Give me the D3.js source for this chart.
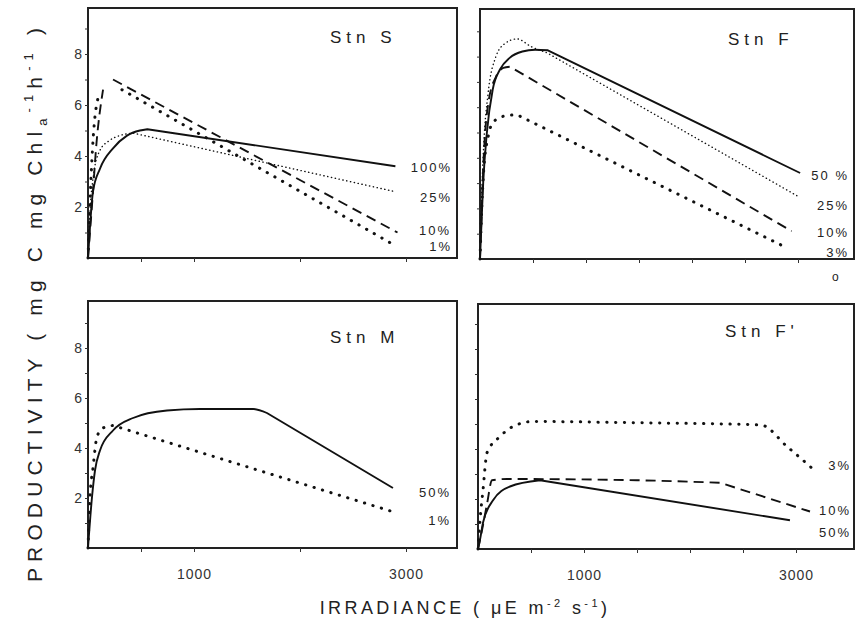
<!DOCTYPE html>
<html><head><meta charset="utf-8">
<script src="https://cdn.jsdelivr.net/npm/d3@7"></script>
<style>
body{margin:0;background:#fff;}
text{font-family:"Liberation Sans",Arial,sans-serif;fill:#222;}
</style></head>
<body><svg id="c" width="859" height="632"></svg>
<script>
// ---- data (irradiance µE m-2 s-1, productivity mg C mg Chla-1 h-1) ----
const stnS_100 = [[0,0],[20,1.3],[47,2.6],[113,3.5],[236,4.3],[368,4.8],[490,5.0],[560,5.05],[2900,3.6]];
const stnS_25  = [[0,0],[20,1.9],[50,3.2],[110,4.2],[200,4.6],[300,4.8],[425,4.9],[2900,2.6]];
const stnS_10  = [[0,0],[40,2.2],[80,4.5],[142,6.6],null,[236,7.0],[2920,1.0]];
const stnS_1   = [[0,0],[25,2.8],[60,5.3],[113,6.5],null,[320,6.6],[2850,0.6]];

const stnF_50 = [[0,0],[15,1.5],[30,3],[65,5],[120,6.7],[190,7.5],[280,7.95],[400,8.2],[520,8.27],[640,8.25],[3020,3.4]];
const stnF_25 = [[0,0],[12,2],[35,4.5],[75,6.5],[150,8],[230,8.5],[350,8.7],[480,8.4],[632,8.15],[2990,2.5]];
const stnF_10 = [[0,0],[15,1.8],[35,4],[80,6.2],[150,7.2],[220,7.55],[283,7.6],[2940,1.1]];
const stnF_3  = [[0,0],[12,1.5],[35,3.5],[80,4.9],[123,5.4],[230,5.65],[350,5.7],[2900,0.43]];

const stnM_50 = [[0,0],[38,2.05],[66,3.1],[113,3.9],[236,4.7],[425,5.2],[745,5.5],[1057,5.56],[1557,5.56],[1688,5.4],[2877,2.4]];
const stnM_1  = [[0,0],[19,2.05],[47,3.2],[85,4.45],[142,4.8],[236,4.9],[2915,1.4]];

const stnFp_3  = [[0,0],[20,1.2],[47,2.35],[85,3.85],[208,4.5],[330,4.9],[519,5.1],[1500,5.05],[2670,4.96],[2915,4.1],[3200,3.05]];
const stnFp_10 = [[0,0],[40,0.8],[85,1.8],[132,2.75],[274,2.8],[1500,2.75],[2283,2.65],[3132,1.5]];
const stnFp_50 = [[0,0],[20,0.4],[47,1.05],[142,1.95],[302,2.5],[585,2.75],[2943,1.15]];

const yTickValues = [1,2,3,4,5,6,7,8,9];
const yTickLabels = [2,4,6,8];
const xTicksLeft  = [500,1000,2000,3000];
const xTicksRight = [500,1000,1500,2000,2500,3000];
const xTickLabels = [1000,3000];

const panels = [
  {title:"Stn S",  x0:88, x1:457, y0:258, y1:8,  ppu:25.5, xTicks:xTicksLeft,  yLab:true,  xLab:false, tx:330, ty:43,
   series:[{d:stnS_100,s:"solid",lin:7,lab:"100%",lx:452,ly:172},{d:stnS_25,s:"thin",lin:6,lab:"25%",lx:452,ly:202},
           {d:stnS_10,s:"dash",lab:"10%",lx:451,ly:235},{d:stnS_1,s:"dot",lab:"1%",lx:452,ly:251}]},
  {title:"Stn F",  x0:480, x1:854, y0:259, y1:9, ppu:25.3, xTicks:xTicksRight, yLab:false, xLab:false, tx:728, ty:45,
   series:[{d:stnF_50,s:"solid",lin:9,lab:"50 %",lx:849,ly:180},{d:stnF_25,s:"thin",lin:8,lab:"25%",lx:849,ly:210},
           {d:stnF_10,s:"dash",lin:6,lab:"10%",lx:849,ly:237},{d:stnF_3,s:"dot",lin:6,lab:"3%",lx:849,ly:257}]},
  {title:"Stn M",  x0:88, x1:457, y0:548, y1:301, ppu:25, xTicks:xTicksLeft,  yLab:true,  xLab:true, tx:330, ty:343,
   series:[{d:stnM_50,s:"solid",lin:9,lab:"50%",lx:451,ly:497},{d:stnM_1,s:"dot",lin:5,lab:"1%",lx:451,ly:525}]},
  {title:"Stn F'", x0:478, x1:854, y0:549, y1:304, ppu:25, xTicks:xTicksRight, yLab:false, xLab:true, tx:725, ty:337,
   series:[{d:stnFp_3,s:"dot",lab:"3%",lx:851,ly:470},{d:stnFp_10,s:"dash",lin:6,lab:"10%",lx:851,ly:515},
           {d:stnFp_50,s:"solid",lin:5,lab:"50%",lx:851,ly:537}]}
];

const styles = {
  solid:{w:1.9,dash:null,cap:"butt"},
  thin:{w:1.4,dash:"0.3,3.6",cap:"round"},
  dash:{w:1.9,dash:"10,6",cap:"butt"},
  dot:{w:3,dash:"0.3,8.5",cap:"round"}
};

const svg = d3.select("#c");

panels.forEach(p=>{
  const x = d3.scaleLinear().domain([0,(p.x1-p.x0)/0.106]).range([p.x0,p.x1]);
  const y = d3.scaleLinear().domain([0,(p.y0-p.y1)/p.ppu]).range([p.y0,p.y1]);
  const g = svg.append("g");

  g.append("rect").attr("x",p.x0).attr("y",p.y1).attr("width",p.x1-p.x0).attr("height",p.y0-p.y1)
    .attr("fill","none").attr("stroke","#222").attr("stroke-width",2);

  const ya = g.append("g").attr("transform",`translate(${p.x0},0)`)
    .call(d3.axisLeft(y).tickValues(yTickValues).tickSize(3).tickPadding(3)
      .tickFormat(v=> p.yLab && yTickLabels.includes(v) ? v : ""));
  ya.select(".domain").remove();
  ya.selectAll("line").attr("stroke","#333").attr("stroke-width",1);
  ya.selectAll("text").style("font-size","14px").style("fill","#333");

  const xa = g.append("g").attr("transform",`translate(0,${p.y0})`)
    .call(d3.axisBottom(x).tickValues(p.xTicks).tickSize(4).tickPadding(17)
      .tickFormat(v=> p.xLab && xTickLabels.includes(v) ? v : ""));
  xa.select(".domain").remove();
  xa.selectAll("line").attr("stroke","#333").attr("stroke-width",1);
  xa.selectAll("text").style("font-size","14px").style("fill","#333").style("letter-spacing","1px");

  const curved = d3.line().defined(d=>d).x(d=>x(d[0])).y(d=>y(d[1])).curve(d3.curveMonotoneX);
  const straight = d3.line().x(d=>x(d[0])).y(d=>y(d[1]));
  p.series.forEach(s=>{
    const st = styles[s.s];
    let dstr;
    if (s.lin !== undefined) {
      dstr = curved(s.d.slice(0, s.lin+1)) + straight(s.d.slice(s.lin)).replace(/^M/,"L");
    } else {
      dstr = curved(s.d);
    }
    g.append("path").attr("d",dstr).attr("fill","none").attr("stroke","#111")
      .attr("stroke-width",st.w).attr("stroke-dasharray",st.dash).attr("stroke-linecap",st.cap)
      .attr("stroke-linejoin","round");
    g.append("text").attr("x",s.lx).attr("y",s.ly).attr("text-anchor","end")
      .style("font-size","13px").style("letter-spacing","2px").text(s.lab);
  });

  g.append("text").attr("x",p.tx).attr("y",p.ty).style("font-size","17px").style("letter-spacing","5px")
    .text(p.title);
});

svg.append("text").attr("x",832).attr("y",281).style("font-size","12px").text("o");

// axis titles, letter spacing fitted to the reference's span
function fit(t, target){
  const n = t.text().length;
  const len = t.node().getComputedTextLength();
  t.style("letter-spacing", Math.max(0,(target-len)/n)+"px");
}
const yt = svg.append("text").attr("text-anchor","middle").style("font-size","21px");
yt.append("tspan").text("PRODUCTIVITY ( mg C mg Chl");
yt.append("tspan").attr("dy",5).style("font-size","13px").text("a");
yt.append("tspan").attr("dy",-14).style("font-size","13px").text("-1");
yt.append("tspan").attr("dy",9).text("h");
yt.append("tspan").attr("dy",-9).style("font-size","13px").text("-1");
yt.append("tspan").attr("dy",9).text(" )");
fit(yt, 560);
yt.attr("transform","translate(42,302) rotate(-90)");

const xt = svg.append("text").attr("text-anchor","middle").style("font-size","18px");
xt.append("tspan").text("IRRADIANCE ( μE  m");
xt.append("tspan").attr("dy",-7).style("font-size","11px").text("-2");
xt.append("tspan").attr("dy",7).text(" s");
xt.append("tspan").attr("dy",-7).style("font-size","11px").text("-1");
xt.append("tspan").attr("dy",7).text(")");
fit(xt, 294);
xt.attr("x",465).attr("y",614);
</script></body></html>
